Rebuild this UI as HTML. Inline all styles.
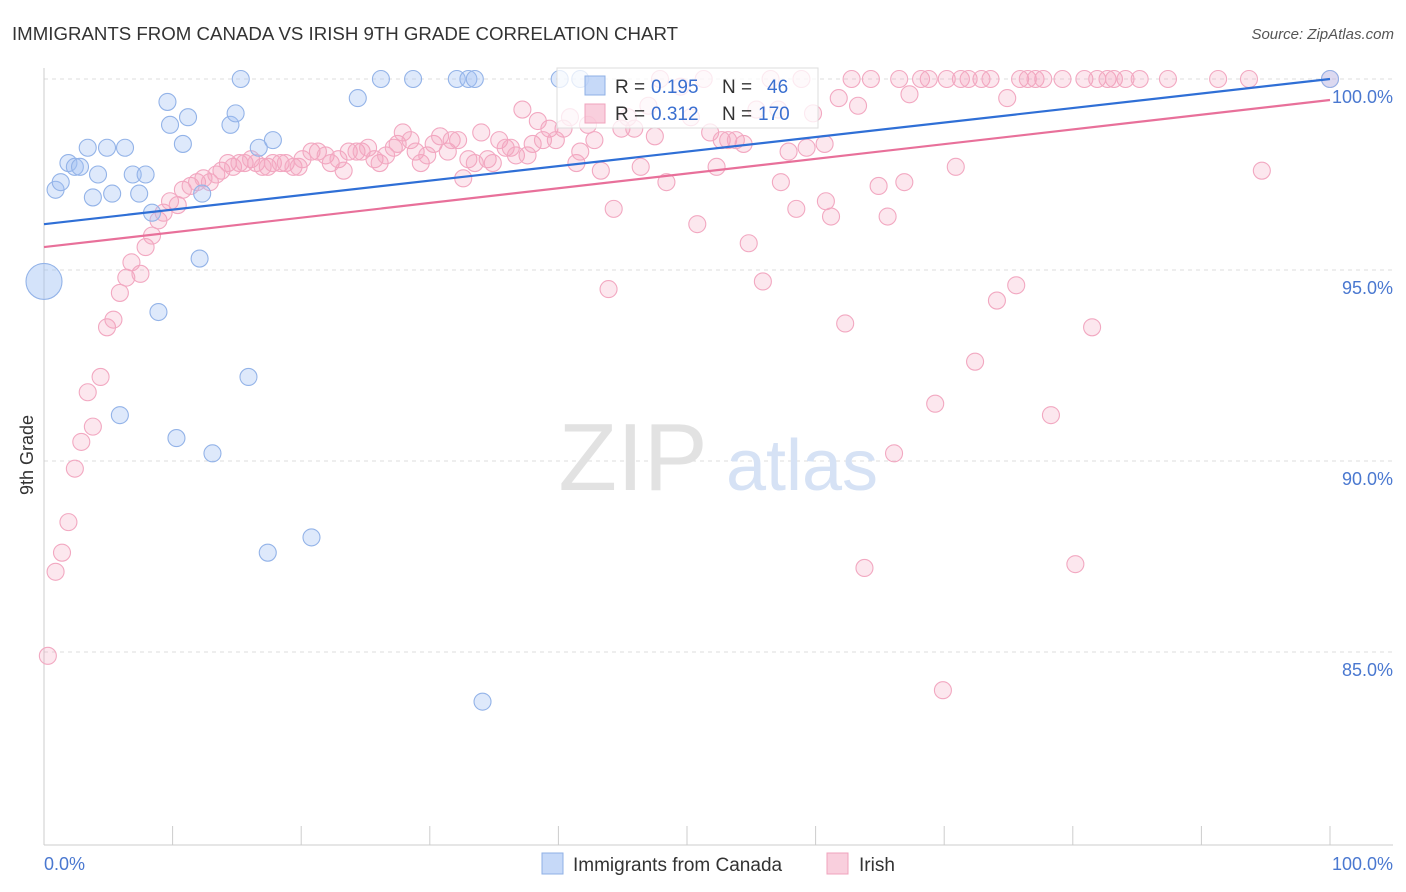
<!DOCTYPE html>
<html><head><meta charset="utf-8">
<style>
body{margin:0;background:#fff;font-family:"Liberation Sans",sans-serif;}
#wrap{position:relative;width:1406px;height:892px;overflow:hidden;}
svg text{font-family:"Liberation Sans",sans-serif;}
</style></head>
<body>
<div id="wrap">
<svg id="chart" width="1406" height="892"></svg>
</div>
<script>
const yTicks=[100,95,90,85];
const yTickLabels=["100.0%","95.0%","90.0%","85.0%"];
const blueX=[0.9,1.3,1.9,2.4,2.8,3.4,3.8,4.2,4.9,5.3,6.3,6.9,7.9,7.4,8.4,8.9,9.6,9.8,10.8,11.2,12.1,12.3,13.1,10.3,5.9,14.5,14.9,15.3,15.9,16.7,17.4,17.8,20.8,24.4,26.2,28.7,32.1,33.0,33.5,34.1,40.1,41.7,100];
const blueY=[97.1,97.3,97.8,97.7,97.7,98.2,96.9,97.5,98.2,97.0,98.2,97.5,97.5,97.0,96.5,93.9,99.4,98.8,98.3,99.0,95.3,97.0,90.2,90.6,91.2,98.8,99.1,100,92.2,98.2,87.6,98.4,88.0,99.5,100,100,100,100,100,83.7,100,100,100];
const blueBigX=[0];
const blueBigY=[94.7];
const pinkX=[0.3,0.9,1.4,1.9,2.4,2.9,3.4,3.8,4.4,4.9,5.4,5.9,6.4,6.8,7.5,7.9,8.4,8.9,9.3,9.8,10.4,10.8,11.4,11.9,12.4,12.9,13.4,13.8,14.3,14.7,15.2,15.6,16.1,16.5,17.0,17.4,17.8,18.4,18.8,19.4,19.8,20.1,20.8,21.3,21.9,22.3,22.9,23.3,23.7,24.3,24.7,25.2,25.7,26.1,26.6,27.2,27.5,27.9,28.5,28.9,29.3,29.8,30.3,30.8,31.4,31.7,32.2,32.6,33.0,33.5,34.0,34.5,34.9,35.4,35.9,36.3,36.7,37.2,37.6,38.0,38.4,38.8,39.3,39.8,40.4,40.9,41.4,41.7,42.3,42.8,43.3,43.9,44.3,44.9,45.4,45.9,46.4,47.0,47.5,47.9,48.4,49.5,50.3,50.8,51.3,51.8,52.3,52.7,53.2,53.8,54.4,54.8,55.4,55.9,56.5,57.1,57.3,57.9,58.5,58.9,59.3,59.8,60.7,60.8,61.2,61.8,62.3,62.8,63.3,63.8,64.3,64.9,65.6,66.1,66.5,66.9,67.3,68.2,68.8,69.3,69.9,70.2,70.9,71.3,71.9,72.4,72.9,73.6,74.1,74.9,75.6,75.9,76.5,77.1,77.7,78.3,79.2,80.2,80.9,81.5,81.9,82.7,83.2,84.1,85.2,87.4,91.3,93.7,94.7,100];
const pinkY=[84.9,87.1,87.6,88.4,89.8,90.5,91.8,90.9,92.2,93.5,93.7,94.4,94.8,95.2,94.9,95.6,95.9,96.3,96.5,96.8,96.7,97.1,97.2,97.3,97.4,97.3,97.5,97.6,97.8,97.7,97.8,97.8,97.9,97.8,97.7,97.7,97.8,97.8,97.8,97.7,97.7,97.9,98.1,98.1,98.0,97.8,97.9,97.6,98.1,98.1,98.1,98.2,97.9,97.8,98.0,98.2,98.3,98.6,98.4,98.1,97.8,98.0,98.3,98.5,98.1,98.4,98.4,97.4,97.9,97.8,98.6,97.9,97.8,98.4,98.2,98.2,98.0,99.2,98.0,98.3,98.9,98.4,98.7,98.4,98.7,99.0,97.8,98.1,98.8,98.4,97.6,94.5,96.6,98.7,99.0,98.7,97.7,99.3,98.5,100,97.3,99.8,99.0,96.2,100,98.6,97.7,98.4,98.4,98.4,98.3,95.7,99.2,94.7,100,99.2,97.3,98.1,96.6,100,98.2,99.1,98.3,96.8,96.4,99.5,93.6,100,99.3,87.2,100,97.2,96.4,90.2,100,97.3,99.6,100,100,91.5,84.0,100,97.7,100,100,92.6,100,100,94.2,99.5,94.6,100,100,100,100,91.2,100,87.3,100,93.5,100,100,100,100,100,100,100,100,97.6,100];
const blueLine=[96.2,100];
const pinkLine=[95.6,99.45];

const NS="http://www.w3.org/2000/svg";
const svg=document.getElementById('chart');
const X0=44,X1=1330,YTOP=79,PX_PER=38.2;
function sx(v){return X0+(X1-X0)*v/100;}
function sy(v){return YTOP+(100-v)*PX_PER;}
function el(tag,attrs,parent){const e=document.createElementNS(NS,tag);for(const k in attrs)e.setAttribute(k,attrs[k]);(parent||svg).appendChild(e);return e;}

let t=el('text',{x:12,y:40,'font-size':18,fill:'#333',textLength:666,lengthAdjust:'spacingAndGlyphs'});t.textContent="IMMIGRANTS FROM CANADA VS IRISH 9TH GRADE CORRELATION CHART";


t=el('text',{x:1394,y:39,'font-size':15,fill:'#555','text-anchor':'end','font-style':'italic'});t.textContent="Source: ZipAtlas.com";



yTicks.forEach((v,i)=>{
  const g=el('line',{x1:X0,x2:1393,y1:sy(v),y2:sy(v),stroke:'#ddd','stroke-dasharray':'4,4'});
  
  
  const l=el('text',{x:1393,y:sy(v)+24,'font-size':18,fill:'#4a78d0','text-anchor':'end'});l.textContent=yTickLabels[i];
  
  
});
let a=el('line',{x1:X0,x2:X0,y1:68,y2:845,stroke:'#ccc'});


a=el('line',{x1:X0,x2:1393,y1:845,y2:845,stroke:'#ccc'});


for(let i=0;i<=10;i++){const tk=el('line',{x1:sx(i*10),x2:sx(i*10),y1:826,y2:845,stroke:'#ccc'});

}
t=el('text',{x:44,y:870,'font-size':18,fill:'#4a78d0'});t.textContent="0.0%";


t=el('text',{x:1393,y:870,'font-size':18,fill:'#4a78d0','text-anchor':'end'});t.textContent="100.0%";


t=el('text',{x:0,y:0,'font-size':18,fill:'#333','text-anchor':'middle',transform:'translate(33,455) rotate(-90)'});t.textContent="9th Grade";



t=el('text',{x:633,y:490,'font-size':96,fill:'#e2e2e2','text-anchor':'middle','font-family':'Liberation Serif'});t.textContent="ZIP";


t=el('text',{x:802,y:490,'font-size':72,fill:'#d6e2f5','text-anchor':'middle'});t.textContent="atlas";



pinkX.forEach((x,i)=>{const c=el('circle',{cx:sx(x),cy:sy(pinkY[i]),r:8.5,fill:'rgba(244,160,188,0.25)',stroke:'#f2a8c1','stroke-width':1.1});

});
blueX.forEach((x,i)=>{const c=el('circle',{cx:sx(x),cy:sy(blueY[i]),r:8.5,fill:'rgba(160,192,244,0.35)',stroke:'#93b3e8','stroke-width':1.1});

});
blueBigX.forEach((x,i)=>{const c=el('circle',{cx:sx(x),cy:sy(blueBigY[i]),r:18,fill:'rgba(160,192,244,0.45)',stroke:'#93b3e8','stroke-width':1.1});

});

let ln=el('line',{x1:sx(0),y1:sy(blueLine[0]),x2:sx(100),y2:sy(blueLine[1]),stroke:'#2f6fd6','stroke-width':2.2});


ln=el('line',{x1:sx(0),y1:sy(pinkLine[0]),x2:sx(100),y2:sy(pinkLine[1]),stroke:'#e8709a','stroke-width':2.2});



const lg=el('g',{});


el('rect',{x:557,y:68,width:261,height:60,fill:'rgba(255,255,255,0.75)',stroke:'#ddd'},lg);
el('rect',{x:585,y:76,width:20,height:19,fill:'rgba(160,192,244,0.6)',stroke:'#8fb0e6'},lg);
el('rect',{x:585,y:104,width:20,height:19,fill:'rgba(244,160,188,0.5)',stroke:'#f0a3bd'},lg);
function row(y,r,n,nx){
  let tx=el('text',{x:615,y:y,'font-size':19,fill:'#333'},lg);tx.textContent='R =';
  tx=el('text',{x:651,y:y,'font-size':19,fill:'#3a6fd0'},lg);tx.textContent=r;
  tx=el('text',{x:722,y:y,'font-size':19,fill:'#333'},lg);tx.textContent='N =';
  tx=el('text',{x:nx,y:y,'font-size':19,fill:'#3a6fd0'},lg);tx.textContent=n;
}
row(93,'0.195','46',767);row(120,'0.312','170',758);

el('rect',{x:542,y:853,width:21,height:21,fill:'rgba(160,192,244,0.6)',stroke:'#8fb0e6'});
t=el('text',{x:573,y:871,'font-size':19,fill:'#333'});t.textContent="Immigrants from Canada";


el('rect',{x:827,y:853,width:21,height:21,fill:'rgba(244,160,188,0.5)',stroke:'#f0a3bd'});
t=el('text',{x:859,y:871,'font-size':19,fill:'#333'});t.textContent="Irish";


</script>
</body></html>
